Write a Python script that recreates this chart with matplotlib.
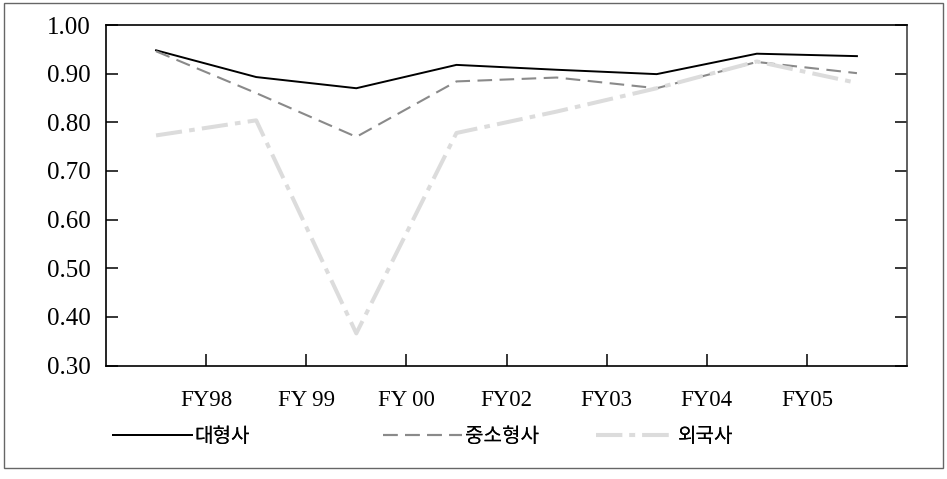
import matplotlib
matplotlib.use("Agg")
import matplotlib.pyplot as plt
from matplotlib.patches import Rectangle
import numpy as np

# ---- data ----
x_pos = [0.5, 1.5, 2.5, 3.5, 4.5, 5.5, 6.5, 7.5]
large = [0.948, 0.893, 0.870, 0.918, 0.908, 0.899, 0.941, 0.936]      # 대형사
small_mid = [0.946, 0.860, 0.770, 0.884, 0.892, 0.870, 0.924, 0.901]  # 중소형사
foreign = [0.773, 0.804, 0.366, 0.778, 0.822, 0.870, 0.925, 0.881]    # 외국사
series_names = ["대형사", "중소형사", "외국사"]
tick_pos = [1, 2, 3, 4, 5, 6, 7]
tick_labels = ["FY98", "FY 99", "FY 00", "FY02", "FY03", "FY04", "FY05"]
y_ticks = [0.30, 0.40, 0.50, 0.60, 0.70, 0.80, 0.90, 1.00]

serif = ["Liberation Serif", "DejaVu Serif"]
kr = ["Noto Sans CJK KR", "DejaVu Sans"]

fig = plt.figure(figsize=(9.47, 4.79), dpi=100)
ax = fig.add_axes([106/947, 1-365.5/479, (907-106)/947, (365.5-25)/479])

l1, = ax.plot(x_pos, large, color="black", lw=1.4, solid_joinstyle="miter")
l2, = ax.plot(x_pos, small_mid, color="#8a8a8a", lw=1.5, linestyle=(0, (7.0, 3.6)))
l3, = ax.plot(x_pos, foreign, color="#dcdcdc", lw=2.9,
              linestyle=(0, (6.5, 1.8, 1.4, 1.8)), dash_capstyle="butt")

ax.set_xlim(0, 8)
ax.set_ylim(0.30, 1.00)
ax.set_xticks(tick_pos)
ax.set_xticklabels(tick_labels, fontfamily=serif, fontsize=16.5)
ax.set_yticks(y_ticks)
ax.set_yticklabels(["%.2f" % v for v in y_ticks], fontfamily=serif, fontsize=18)

ax.tick_params(axis="y", direction="in", length=8.5, width=1.1, left=True, right=True,
               pad=11, colors="black")
ax.tick_params(axis="x", direction="in", length=8.5, width=1.1, top=False, pad=18)
for s in ax.spines.values():
    s.set_linewidth(1.2)
    s.set_color("black")
ax.spines["right"].set_color("#444444")

# legend, placed manually as three single-entry legends
handles = [l1, l2, l3]
starts = [113/947, 383/947, 596/947]
for h, name, xs in zip(handles, series_names, starts):
    lg = fig.legend([h], [name], loc="center left", bbox_to_anchor=(xs, 1-437/479),
                    frameon=False, borderpad=0, borderaxespad=0, handlelength=3.9,
                    handletextpad=0.15, prop={"family": kr, "size": 14.5})
    fig.add_artist(lg)

fig.patches.append(Rectangle((4/947, 1-468/479), (943-4)/947, (468-3)/479,
                             transform=fig.transFigure, fill=False,
                             edgecolor="#666666", lw=1.0))

fig.savefig("out.png", dpi=100)
